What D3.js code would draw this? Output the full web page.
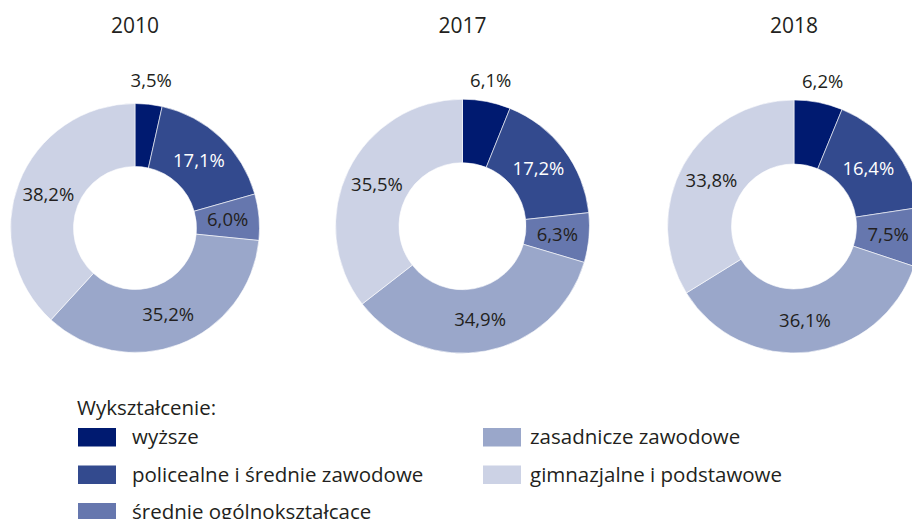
<!DOCTYPE html>
<html>
<head>
<meta charset="utf-8">
<script src="https://cdn.jsdelivr.net/npm/d3@7/dist/d3.min.js"></script>
<style>
  body { margin: 0; background: #fff; }
  text { font-family: "Open Sans", "Noto Sans", sans-serif; fill: #231f20; }
</style>
</head>
<body>
<div class="contain"></div>
<script>
const years = ["2010", "2017", "2018"];
const categories = ["wyższe", "policealne i średnie zawodowe", "średnie ogólnokształcące",
                    "zasadnicze zawodowe", "gimnazjalne i podstawowe"];
const values2010 = [3.5, 17.1, 6.0, 35.2, 38.2];
const values2017 = [6.1, 17.2, 6.3, 34.9, 35.5];
const values2018 = [6.2, 16.4, 7.5, 36.1, 33.8];
const colors = ["#001a70", "#334a8e", "#6677ae", "#9aa7ca", "#ccd2e5"];
const labelColors = ["#231f20", "#ffffff", "#231f20", "#231f20", "#231f20"];
const legendTitle = "Wykształcenie:";

const series = [values2010, values2017, values2018];

const svg_width = 912;
const svg_height = 519;
// per-donut geometry
const centers_x = [135, 462.5, 794];
const centers_y = [228, 226.2, 226.5];
const outers = [124.5, 127, 126.5];
const inners = [61.5, 63.5, 62.5];

let svg = d3.select(".contain").append("svg")
            .attr("width", svg_width).attr("height", svg_height);

let pie = d3.pie().sort(null).value(d => d);

const fmt = v => v.toFixed(1).replace(".", ",") + "%";

series.forEach((vals, k) => {
  let arc = d3.arc().innerRadius(inners[k]).outerRadius(outers[k]);
  let mid = (inners[k] + outers[k]) / 2;
  let labelArc = d3.arc().innerRadius(mid).outerRadius(mid);
  let outsideArc = d3.arc().innerRadius(148).outerRadius(148);

  let g = svg.append("g").attr("transform", `translate(${centers_x[k]}, ${centers_y[k]})`);

  svg.append("text")
    .attr("x", centers_x[k]).attr("y", 33)
    .attr("text-anchor", "middle")
    .style("font-size", "21px")
    .text(years[k]);

  let arcs = pie(vals);

  g.selectAll("path")
    .data(arcs).enter().append("path")
    .attr("d", arc)
    .attr("fill", (d, i) => colors[i])
    .attr("stroke", "#fff")
    .attr("stroke-width", 0.6);

  g.selectAll("text.lbl")
    .data(arcs).enter().append("text")
    .attr("class", "lbl")
    .attr("transform", (d, i) => {
      let c = (i === 0 ? outsideArc : labelArc).centroid(d);
      return `translate(${c[0]}, ${c[1]})`;
    })
    .attr("text-anchor", "middle")
    .attr("dy", "0.35em")
    .style("font-size", "18.5px")
    .style("fill", (d, i) => labelColors[i])
    .text(d => fmt(d.data));
});

// legend
let legend = svg.append("g");
legend.append("text")
  .attr("x", 77).attr("y", 415)
  .style("font-size", "20.5px")
  .text(legendTitle);

// [swatch x, text x, row]
const legend_pos = [[78, 132, 0], [78, 132, 1], [78, 132, 2], [483, 530, 0], [483, 530, 1]];
categories.forEach((name, i) => {
  let [x, tx, row] = legend_pos[i];
  let y = 428 + row * 37.5;
  legend.append("rect")
    .attr("x", x).attr("y", y)
    .attr("width", 38).attr("height", 18.5)
    .attr("fill", colors[i]);
  legend.append("text")
    .attr("x", tx).attr("y", y + 16)
    .style("font-size", "20.5px")
    .text(name);
});
</script>
</body>
</html>
